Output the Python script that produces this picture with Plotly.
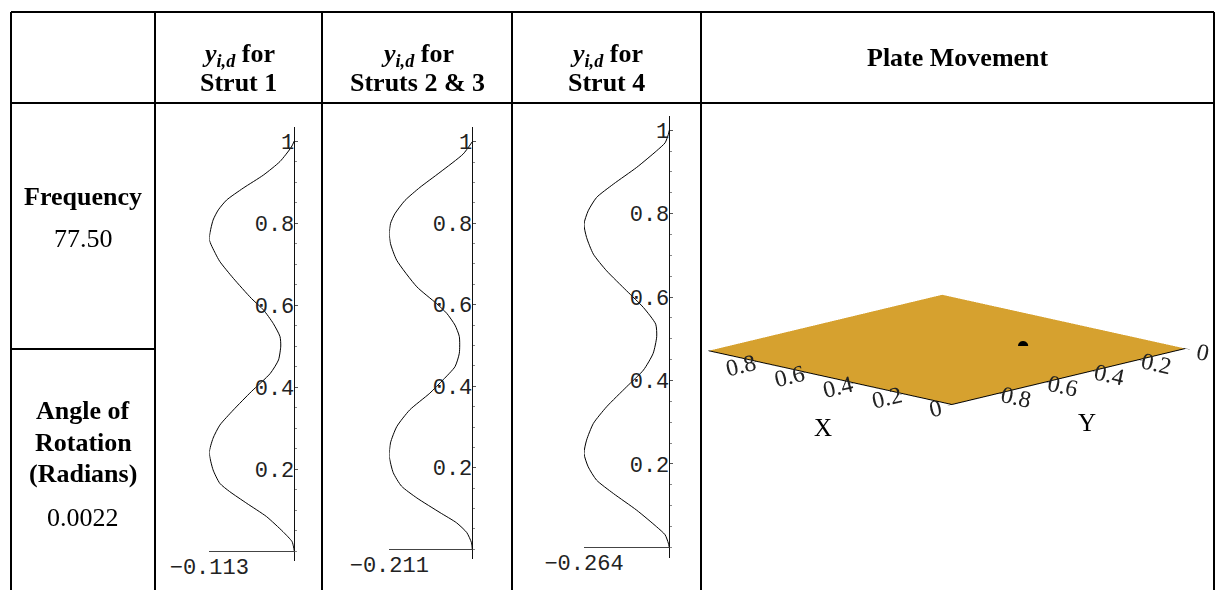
import plotly.graph_objects as go

W, H = 1227, 590

# Mode shape of each strut: position along the strut (0 = base, 1 = top)
# and the normalised lateral deflection y_{i,d}
strut1_pos = [0.000, 0.010, 0.023, 0.047, 0.084, 0.116, 0.145, 0.165, 0.198, 0.240,
              0.275, 0.307, 0.344, 0.389, 0.433, 0.466, 0.500, 0.523, 0.555, 0.588,
              0.616, 0.665, 0.706, 0.726, 0.760, 0.807, 0.832, 0.856, 0.885, 0.917,
              0.950, 0.985, 1.000]
strut1_def = [0.000, -0.001, -0.003, -0.015, -0.037, -0.063, -0.086, -0.099, -0.108, -0.113,
              -0.108, -0.099, -0.081, -0.057, -0.032, -0.021, -0.018, -0.019, -0.028, -0.041,
              -0.057, -0.081, -0.099, -0.105, -0.113, -0.108, -0.101, -0.090, -0.068, -0.041,
              -0.019, -0.004, 0.000]

strut23_pos = [0.000, 0.016, 0.041, 0.065, 0.090, 0.126, 0.155, 0.188, 0.228, 0.261,
               0.301, 0.342, 0.383, 0.416, 0.448, 0.481, 0.522, 0.550, 0.579, 0.603,
               0.644, 0.709, 0.750, 0.774, 0.799, 0.823, 0.856, 0.888, 0.925, 0.970,
               1.000]
strut23_def = [0.000, -0.002, -0.014, -0.040, -0.082, -0.141, -0.180, -0.201, -0.211, -0.208,
               -0.192, -0.159, -0.108, -0.074, -0.044, -0.033, -0.033, -0.044, -0.065, -0.091,
               -0.141, -0.192, -0.208, -0.211, -0.208, -0.197, -0.171, -0.133, -0.082, -0.023,
               0.000]

strut4_pos = [0.000, 0.010, 0.030, 0.049, 0.089, 0.129, 0.161, 0.193, 0.225, 0.257,
              0.297, 0.337, 0.385, 0.425, 0.465, 0.505, 0.535, 0.575, 0.615, 0.663,
              0.703, 0.743, 0.775, 0.807, 0.839, 0.871, 0.911, 0.951, 0.970, 0.990,
              1.000]
strut4_def = [0.000, -0.003, -0.013, -0.039, -0.101, -0.173, -0.225, -0.251, -0.264, -0.256,
              -0.235, -0.194, -0.132, -0.080, -0.050, -0.039, -0.042, -0.080, -0.132, -0.194,
              -0.235, -0.256, -0.264, -0.251, -0.225, -0.173, -0.101, -0.039, -0.013, -0.003,
              0.000]

strut_min_labels = ["\u22120.113", "\u22120.211", "\u22120.264"]
pos_ticks = [0.2, 0.4, 0.6, 0.8, 1.0]
pos_tick_text = ["0.2", "0.4", "0.6", "0.8", "1"]

# Plate surface (flat, tiny rotation) and the reference point on it
plate_x = [0.0, 1.0]
plate_y = [0.0, 1.0]
plate_z = [[0.0, 0.0], [0.0, 0.0]]
point_x, point_y, point_z = [0.37], [0.31], [0.0]
plate_ticks = [0, 0.2, 0.4, 0.6, 0.8]

frequency = "77.50"
rotation = "0.0022"


def fx(x):
    return x / W


def fy(y):
    return 1 - y / H


fig = go.Figure()

# pixel geometry of each strut panel: x of the minimum, x of zero, y of 0, y of 1
panels = [
    (strut1_pos, strut1_def, strut_min_labels[0], 209.3, 294.3, 551.0, 141.0),
    (strut23_pos, strut23_def, strut_min_labels[1], 389.3, 472.3, 549.3, 141.7),
    (strut4_pos, strut4_def, strut_min_labels[2], 584.0, 669.3, 547.3, 130.3),
]

tick_font = dict(family="Liberation Mono", size=22, color="#222")
ylo, yhi = -0.025, 1.035
for i, (pos, dfl, lab, xl, x0, yb, yt) in enumerate(panels, start=1):
    xmin = min(dfl)
    xmax = 2.6 / (x0 - xl) * abs(xmin)
    span = yb - yt
    pix_bottom = yb - ylo * span
    pix_top = yb - yhi * span
    xa = "x" if i == 1 else f"x{i}"
    ya = "y" if i == 1 else f"y{i}"
    fig.add_trace(go.Scatter(x=dfl, y=pos, mode="lines", xaxis=xa, yaxis=ya,
                             line=dict(color="black", width=1, shape="spline", smoothing=0.6),
                             hoverinfo="skip", showlegend=False))
    key = "" if i == 1 else str(i)
    fig.layout["xaxis" + key] = dict(
        domain=[fx(xl), fx(x0 + 2.6)], range=[xmin, xmax], automargin=False,
        showgrid=False, showline=False, zeroline=True, zerolinecolor="#111", zerolinewidth=1,
        tickmode="array", tickvals=[xmin], ticktext=[lab], ticks="",
        tickfont=tick_font, anchor="free", position=fy(yb), fixedrange=True)
    fig.layout["yaxis" + key] = dict(
        domain=[fy(pix_bottom), fy(pix_top)], range=[ylo, yhi], automargin=False,
        showgrid=False, showline=False, zeroline=True, zerolinecolor="#444", zerolinewidth=1,
        tickmode="array", tickvals=pos_ticks, ticktext=pos_tick_text,
        ticks="inside", ticklen=3, tickcolor="#555",
        minor=dict(tickmode="linear", tick0=0, dtick=0.05, ticks="inside", ticklen=2, tickcolor="#888"),
        tickfont=tick_font, anchor="free", position=fx(x0), fixedrange=True)

# Plate movement surface
gold = "#D6A12F"
fig.add_trace(go.Surface(x=plate_x, y=plate_y, z=plate_z, surfacecolor=[[0, 0], [0, 0]],
                         colorscale=[[0, gold], [1, gold]], showscale=False, scene="scene",
                         lighting=dict(ambient=1, diffuse=0, specular=0, fresnel=0),
                         hoverinfo="skip"))
fig.add_trace(go.Scatter3d(x=point_x, y=point_y, z=point_z, mode="markers", scene="scene",
                           marker=dict(size=6, color="black"), hoverinfo="skip", showlegend=False))

ax3 = dict(range=[0, 1], tickmode="array", tickvals=plate_ticks,
           ticktext=[f"{t:g}" for t in plate_ticks], title=dict(text=""),
           showgrid=False, showbackground=False, zeroline=False, showspikes=False,
           showline=True, linecolor="black", linewidth=2, ticks="outside", ticklen=6,
           tickcolor="black", tickfont=dict(family="Liberation Serif", size=17, color="#222"))
fig.update_layout(scene=dict(
    domain=dict(x=[fx(680), fx(1214)], y=[0, fy(96)]),
    xaxis=ax3, yaxis=ax3,
    zaxis=dict(visible=False, range=[0, 1]),
    aspectmode="manual", aspectratio=dict(x=1.365, y=1.365, z=0.055),
    camera=dict(eye=dict(x=-1.2, y=1.25, z=0.41), up=dict(x=0, y=0, z=1),
                center=dict(x=0, y=0, z=0), projection=dict(type="orthographic")),
))

# Table rules
L, R, T, HB = 11, 1214, 12, 103
cols = [155, 322, 512, 701]
lines = [(L, T, R, T), (L, HB, R, HB), (L, 349, cols[0], 349), (L, T, L, H + 2), (R, T, R, H + 2)]
lines += [(c, T, c, H + 2) for c in cols]
for x0_, y0_, x1_, y1_ in lines:
    fig.add_shape(type="line", xref="paper", yref="paper",
                  x0=fx(x0_), y0=fy(y0_), x1=fx(x1_), y1=fy(y1_),
                  line=dict(color="black", width=2))

serif = "Liberation Serif"


def text(x, y, s, size=26, bold=False):
    fig.add_annotation(x=fx(x), y=fy(y), xref="paper", yref="paper", showarrow=False,
                       text=f"<b>{s}</b>" if bold else s, xanchor="center", yanchor="middle",
                       font=dict(family=serif, size=size, color="black"))


ylab = "<i>y</i><sub><i>i,d</i></sub> for"
text(238.5, 55, ylab, bold=True)
text(238.5, 82, "Strut 1", bold=True)
text(417, 55, ylab, bold=True)
text(417, 82, "Struts 2 &amp; 3", bold=True)
text(606.5, 55, ylab, bold=True)
text(606.5, 82, "Strut 4", bold=True)
text(957.5, 57, "Plate Movement", bold=True)

text(83, 197, "Frequency", bold=True)
text(83, 238, frequency)
text(83, 410, "Angle of", bold=True)
text(83, 442, "Rotation", bold=True)
text(83, 473, "(Radians)", bold=True)
text(83, 517, rotation)

# plate axis names
text(823, 427, "X", size=25)
text(1087, 422, "Y", size=25)

fig.update_layout(width=W, height=H, margin=dict(l=0, r=0, t=0, b=0, autoexpand=False),
                  paper_bgcolor="white", plot_bgcolor="rgba(0,0,0,0)", showlegend=False)

fig.write_html("out.html")
